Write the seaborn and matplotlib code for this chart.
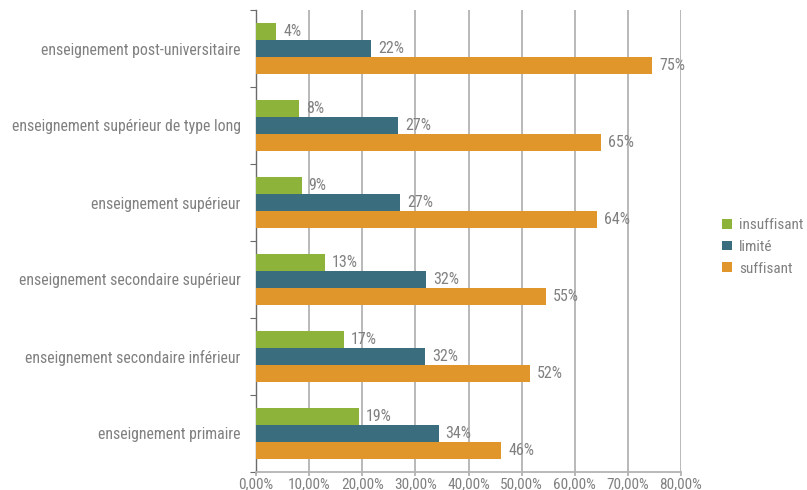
import matplotlib
matplotlib.use("Agg")
import matplotlib.pyplot as plt
import matplotlib.font_manager as fm
from matplotlib.ticker import FuncFormatter, FixedLocator
import seaborn as sns
import pandas as pd

categories = [
    "enseignement post-universitaire",
    "enseignement supérieur de type long",
    "enseignement supérieur",
    "enseignement secondaire supérieur",
    "enseignement secondaire inférieur",
    "enseignement primaire",
]
levels = ["insuffisant", "limité", "suffisant"]
insuffisant = [3.8, 8.1, 8.6, 13.0, 16.6, 19.3]
limite = [21.7, 26.8, 27.1, 32.0, 31.9, 34.4]
suffisant = [74.6, 65.0, 64.2, 54.6, 51.5, 46.2]
colors = ["#8db33b", "#3a6e7f", "#e0962a"]
x_ticks = [0, 10, 20, 30, 40, 50, 60, 70, 80]

rows = []
for lvl, vals in zip(levels, [insuffisant, limite, suffisant]):
    for cat, v in zip(categories, vals):
        rows.append({"niveau": cat, "compétence": lvl, "part": v})
df = pd.DataFrame(rows)

sns.set_theme(style="white")
names = {f.name for f in fm.fontManager.ttflist}
family = [f for f in ["Roboto Condensed", "Liberation Sans Narrow", "Roboto", "DejaVu Sans"]
          if f in names]
plt.rcParams["font.family"] = family

TXT = "#808080"
fig = plt.figure(figsize=(8.07, 4.90), dpi=100)
ax = fig.add_axes([256 / 807, 1 - 472 / 490, 425 / 807, 462 / 490])

sns.barplot(data=df, y="niveau", x="part", hue="compétence", order=categories,
            hue_order=levels, palette=colors, orient="h", width=0.67,
            saturation=1, edgecolor="none", ax=ax, zorder=3)

ax.set_xlim(0, 80)
ax.set_ylim(len(categories) - 0.5, -0.5)
ax.xaxis.set_major_locator(FixedLocator(x_ticks))
ax.xaxis.set_major_formatter(FuncFormatter(lambda v, p: f"{v:.2f}%".replace(".", ",")))
ax.grid(axis="x", color="#b3b3b3", linewidth=1.3, zorder=0)
ax.set_axisbelow(True)
ax.set_xlabel("")
ax.set_ylabel("")

for s in ["top", "right"]:
    ax.spines[s].set_visible(False)
ax.spines["left"].set_color("#6b6b6b")
ax.spines["bottom"].set_color("#b3b3b3")
ax.spines["left"].set_linewidth(1.0)
ax.spines["bottom"].set_linewidth(1.3)

ax.tick_params(axis="x", colors="#b3b3b3", length=3, width=1.3, labelcolor=TXT,
               labelsize=11, pad=0.5, bottom=True)
ax.tick_params(axis="y", length=0, labelcolor=TXT, labelsize=11.4, pad=11)
# small separators between the groups on the category axis
ax.set_yticks([i - 0.5 for i in range(len(categories) + 1)], minor=True)
ax.tick_params(axis="y", which="minor", left=True, length=4, color="#6b6b6b", width=0.8)

for cont in ax.containers:
    ax.bar_label(cont, labels=[f"{round(b.get_width())}%" for b in cont],
                 padding=5, color=TXT, fontsize=11.5)

handles, labels = ax.get_legend_handles_labels()
ax.legend(handles, labels, loc="center left", bbox_to_anchor=(1.065, 0.487),
          frameon=False, fontsize=11, labelcolor=TXT, handlelength=0.6,
          handleheight=0.6, handletextpad=0.5, labelspacing=0.5)

fig.savefig("out.png", dpi=100)
